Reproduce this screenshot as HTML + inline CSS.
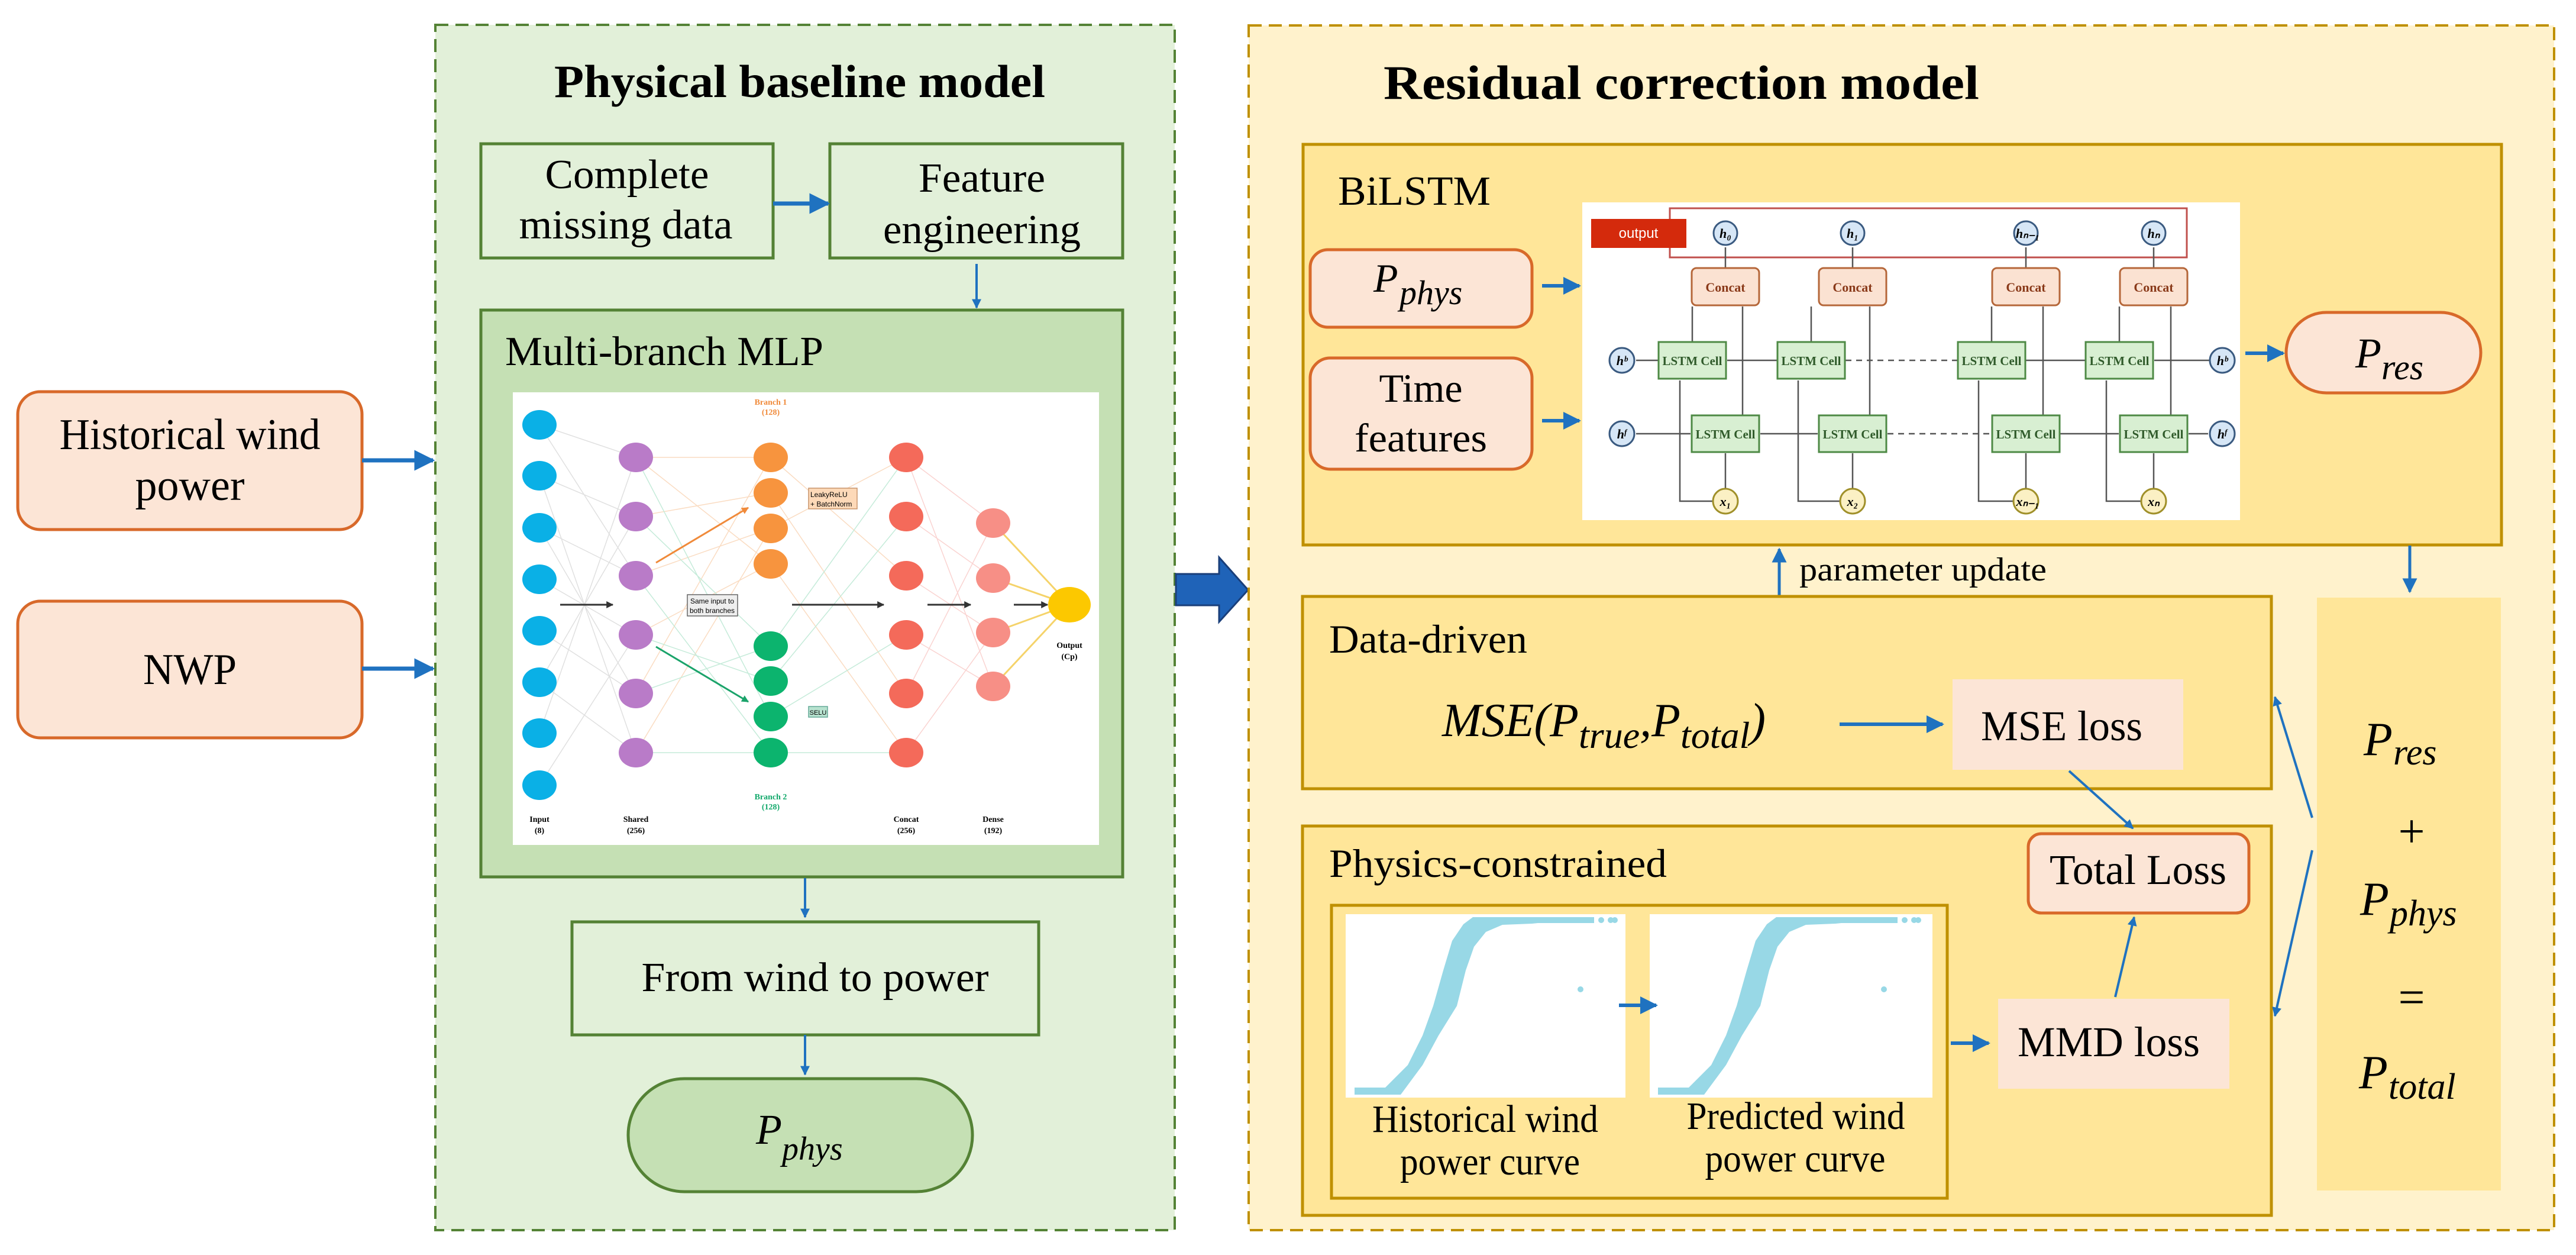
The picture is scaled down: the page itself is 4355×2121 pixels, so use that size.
<!DOCTYPE html>
<html><head><meta charset="utf-8"><style>
html,body{margin:0;padding:0;background:#fff;}
svg{display:block;}
text{font-family:"Liberation Serif",serif;fill:#000;}
.s{font-family:"Liberation Sans",sans-serif;}
</style></head><body>
<svg width="4355" height="2121" viewBox="0 0 4355 2121" xmlns="http://www.w3.org/2000/svg">
<defs>
<marker id="a" viewBox="0 0 10 10" refX="9" refY="5" markerWidth="5" markerHeight="5" orient="auto-start-reverse" markerUnits="strokeWidth"><path d="M0,0 L10,5 L0,10 z" fill="#1f72c0"/></marker>
<marker id="a2" viewBox="0 0 10 10" refX="9" refY="5" markerWidth="4" markerHeight="4" orient="auto" markerUnits="strokeWidth"><path d="M0,0 L10,5 L0,10 z" fill="#1f72c0"/></marker>
<marker id="k" viewBox="0 0 10 10" refX="9" refY="5" markerWidth="4" markerHeight="4" orient="auto" markerUnits="strokeWidth"><path d="M0,0 L10,5 L0,10 z" fill="#333"/></marker>
<marker id="o" viewBox="0 0 10 10" refX="9" refY="5" markerWidth="4" markerHeight="4" orient="auto" markerUnits="strokeWidth"><path d="M0,0 L10,5 L0,10 z" fill="#f08a3a"/></marker>
<marker id="gr" viewBox="0 0 10 10" refX="9" refY="5" markerWidth="4" markerHeight="4" orient="auto" markerUnits="strokeWidth"><path d="M0,0 L10,5 L0,10 z" fill="#1aa36a"/></marker>
</defs>

<!-- LEFT INPUT BOXES -->
<rect x="30" y="662" width="582" height="233" rx="38" fill="#fce5d6" stroke="#d8692a" stroke-width="5"/>
<text x="321" y="759" font-size="74" text-anchor="middle" textLength="441" lengthAdjust="spacingAndGlyphs">Historical wind</text>
<text x="321" y="845" font-size="74" text-anchor="middle">power</text>
<rect x="30" y="1016" width="582" height="231" rx="38" fill="#fce5d6" stroke="#d8692a" stroke-width="5"/>
<text x="321" y="1156" font-size="74" text-anchor="middle" textLength="158" lengthAdjust="spacingAndGlyphs">NWP</text>

<!-- LEFT PANEL -->
<rect x="736" y="42" width="1250" height="2037" fill="#e2f0d9" stroke="#548235" stroke-width="4" stroke-dasharray="22,12"/>
<text x="1352" y="164" font-size="78" font-weight="bold" text-anchor="middle" textLength="830" lengthAdjust="spacingAndGlyphs">Physical baseline model</text>
<rect x="813" y="243" width="494" height="193" fill="#e2f0d9" stroke="#548235" stroke-width="5"/>
<text x="1060" y="318" font-size="70" text-anchor="middle" textLength="277" lengthAdjust="spacingAndGlyphs">Complete</text>
<text x="1058" y="403" font-size="70" text-anchor="middle" textLength="361" lengthAdjust="spacingAndGlyphs">missing data</text>
<rect x="1403" y="243" width="495" height="193" fill="#e2f0d9" stroke="#548235" stroke-width="5"/>
<text x="1660" y="324" font-size="70" text-anchor="middle" textLength="214" lengthAdjust="spacingAndGlyphs">Feature</text>
<text x="1660" y="411" font-size="70" text-anchor="middle" textLength="334" lengthAdjust="spacingAndGlyphs">engineering</text>
<line x1="1307" y1="344" x2="1400" y2="344" stroke="#1f72c0" stroke-width="7" marker-end="url(#a)"/>
<line x1="1651" y1="446" x2="1651" y2="520" stroke="#1f72c0" stroke-width="4" marker-end="url(#a2)"/>

<rect x="813" y="524" width="1085" height="958" fill="#c5e0b4" stroke="#548235" stroke-width="5"/>
<text x="854" y="617" font-size="70" textLength="538" lengthAdjust="spacingAndGlyphs">Multi-branch MLP</text>

<!-- MLP image -->
<rect x="867" y="663" width="991" height="765" fill="#fff"/>
<g stroke-width="1.5" opacity="0.45">
<path d="M912,718 L1075,773 M912,804 L1075,873 M912,892 L1075,973 M912,979 L1075,1073 M912,1066 L1075,1172 M912,1153 L1075,1272 M912,718 L1075,973 M912,1327 L1075,1073 M912,804 L1075,1272 M912,1239 L1075,773 M912,892 L1075,1172 M912,1153 L1075,873" stroke="#bbb"/>
<path d="M1075,773 L1303,773 M1075,873 L1303,833 M1075,973 L1303,893 M1075,1073 L1303,953 M1075,1172 L1303,773 M1075,1272 L1303,893 M1075,773 L1303,953 M1303,773 L1532,973 M1303,833 L1532,1172 M1303,893 L1532,773 M1303,953 L1532,1272" stroke="#f5b27a"/>
<path d="M1075,773 L1303,1211 M1075,873 L1303,1092 M1075,973 L1303,1272 M1075,1073 L1303,1151 M1075,1172 L1303,1092 M1075,1272 L1303,1272 M1303,1092 L1532,773 M1303,1151 L1532,873 M1303,1211 L1532,1073 M1303,1272 L1532,1272" stroke="#7fd3ad"/>
<path d="M1532,773 L1679,884 M1532,873 L1679,977 M1532,973 L1679,1069 M1532,1073 L1679,1160 M1532,1172 L1679,884 M1532,1272 L1679,1069 M1532,773 L1679,1160" stroke="#f4a09a"/>
</g>
<g stroke="#f5d36a" stroke-width="3"><line x1="1679" y1="884" x2="1808" y2="1022"/><line x1="1679" y1="977" x2="1808" y2="1022"/><line x1="1679" y1="1069" x2="1808" y2="1022"/><line x1="1679" y1="1160" x2="1808" y2="1022"/></g>
<g fill="#0ab0e6"><ellipse cx="912" cy="718" rx="29" ry="25"/><ellipse cx="912" cy="804" rx="29" ry="25"/><ellipse cx="912" cy="892" rx="29" ry="25"/><ellipse cx="912" cy="979" rx="29" ry="25"/><ellipse cx="912" cy="1066" rx="29" ry="25"/><ellipse cx="912" cy="1153" rx="29" ry="25"/><ellipse cx="912" cy="1239" rx="29" ry="25"/><ellipse cx="912" cy="1327" rx="29" ry="25"/></g>
<g fill="#b97bc8"><ellipse cx="1075" cy="773" rx="29" ry="25"/><ellipse cx="1075" cy="873" rx="29" ry="25"/><ellipse cx="1075" cy="973" rx="29" ry="25"/><ellipse cx="1075" cy="1073" rx="29" ry="25"/><ellipse cx="1075" cy="1172" rx="29" ry="25"/><ellipse cx="1075" cy="1272" rx="29" ry="25"/></g>
<g fill="#f7943e"><ellipse cx="1303" cy="773" rx="29" ry="25"/><ellipse cx="1303" cy="833" rx="29" ry="25"/><ellipse cx="1303" cy="893" rx="29" ry="25"/><ellipse cx="1303" cy="953" rx="29" ry="25"/></g>
<g fill="#0cb46e"><ellipse cx="1303" cy="1092" rx="29" ry="25"/><ellipse cx="1303" cy="1151" rx="29" ry="25"/><ellipse cx="1303" cy="1211" rx="29" ry="25"/><ellipse cx="1303" cy="1272" rx="29" ry="25"/></g>
<g fill="#f46a5a"><ellipse cx="1532" cy="773" rx="29" ry="25"/><ellipse cx="1532" cy="873" rx="29" ry="25"/><ellipse cx="1532" cy="973" rx="29" ry="25"/><ellipse cx="1532" cy="1073" rx="29" ry="25"/><ellipse cx="1532" cy="1172" rx="29" ry="25"/><ellipse cx="1532" cy="1272" rx="29" ry="25"/></g>
<g fill="#f78f86"><ellipse cx="1679" cy="884" rx="29" ry="25"/><ellipse cx="1679" cy="977" rx="29" ry="25"/><ellipse cx="1679" cy="1069" rx="29" ry="25"/><ellipse cx="1679" cy="1160" rx="29" ry="25"/></g>
<ellipse cx="1808" cy="1022" rx="36" ry="30" fill="#fcc800"/>
<line x1="947" y1="1022" x2="1036" y2="1022" stroke="#333" stroke-width="3" marker-end="url(#k)"/>
<line x1="1339" y1="1022" x2="1494" y2="1022" stroke="#333" stroke-width="3" marker-end="url(#k)"/>
<line x1="1568" y1="1022" x2="1641" y2="1022" stroke="#333" stroke-width="3" marker-end="url(#k)"/>
<line x1="1714" y1="1022" x2="1771" y2="1022" stroke="#333" stroke-width="3" marker-end="url(#k)"/>
<line x1="1109" y1="951" x2="1265" y2="858" stroke="#f08a3a" stroke-width="3" marker-end="url(#o)"/>
<line x1="1109" y1="1093" x2="1265" y2="1186" stroke="#1aa36a" stroke-width="3" marker-end="url(#gr)"/>
<rect x="1162" y="1005" width="85" height="36" fill="#eee" stroke="#666" stroke-width="1.5"/>
<text x="1204" y="1020" font-size="12" class="s" text-anchor="middle">Same input to</text>
<text x="1204" y="1036" font-size="12" class="s" text-anchor="middle">both branches</text>
<rect x="1367" y="825" width="82" height="35" fill="#fdd9b8" stroke="#c8946a" stroke-width="1.5"/>
<text x="1370" y="840" font-size="12" class="s">LeakyReLU</text>
<text x="1370" y="856" font-size="12" class="s">+ BatchNorm</text>
<rect x="1367" y="1194" width="32" height="18" fill="#b7e2cf" stroke="#6a9" stroke-width="1.5"/>
<text x="1383" y="1208" font-size="11" class="s" text-anchor="middle">SELU</text>
<g class="s" font-size="14" font-weight="bold" text-anchor="middle">
<text x="1303" y="684" style="fill:#f08a3a">Branch 1</text><text x="1303" y="701" style="fill:#f08a3a">(128)</text>
<text x="1303" y="1351" style="fill:#10a86a">Branch 2</text><text x="1303" y="1368" style="fill:#10a86a">(128)</text>
<text x="912" y="1389">Input</text><text x="912" y="1408">(8)</text>
<text x="1075" y="1389">Shared</text><text x="1075" y="1408">(256)</text>
<text x="1532" y="1389">Concat</text><text x="1532" y="1408">(256)</text>
<text x="1679" y="1389">Dense</text><text x="1679" y="1408">(192)</text>
<text x="1808" y="1095">Output</text><text x="1808" y="1114">(Cp)</text>
</g>

<line x1="1361" y1="1484" x2="1361" y2="1550" stroke="#1f72c0" stroke-width="4" marker-end="url(#a2)"/>
<rect x="967" y="1558" width="789" height="191" fill="#e2f0d9" stroke="#548235" stroke-width="5"/>
<text x="1378" y="1675" font-size="70" text-anchor="middle" textLength="587" lengthAdjust="spacingAndGlyphs">From wind to power</text>
<line x1="1361" y1="1749" x2="1361" y2="1816" stroke="#1f72c0" stroke-width="4" marker-end="url(#a2)"/>
<rect x="1062" y="1823" width="582" height="191" rx="95" fill="#c5e0b4" stroke="#548235" stroke-width="5"/>
<text x="1278" y="1933" font-size="72" font-style="italic">P</text>
<text x="1322" y="1960" font-size="56" font-style="italic">phys</text>

<!-- arrows in -->
<line x1="612" y1="778" x2="732" y2="778" stroke="#1f72c0" stroke-width="7" marker-end="url(#a)"/>
<line x1="612" y1="1130" x2="732" y2="1130" stroke="#1f72c0" stroke-width="7" marker-end="url(#a)"/>

<!-- big arrow -->
<path d="M1988,970 L2061,970 L2061,942 L2110,997 L2061,1051 L2061,1023 L1988,1023 Z" fill="#1f63b8" stroke="#1a3f7a" stroke-width="3"/>

<!-- RIGHT PANEL -->
<rect x="2111" y="43" width="2207" height="2036" fill="#fff2cc" stroke="#bf9000" stroke-width="4" stroke-dasharray="22,12"/>
<text x="2339" y="167" font-size="82" font-weight="bold" textLength="1007" lengthAdjust="spacingAndGlyphs">Residual correction model</text>

<rect x="2203" y="244" width="2026" height="677" fill="#ffe699" stroke="#bf9000" stroke-width="5"/>
<text x="2262" y="346" font-size="70" textLength="258" lengthAdjust="spacingAndGlyphs">BiLSTM</text>
<rect x="2215" y="422" width="375" height="131" rx="30" fill="#fce5d6" stroke="#d8692a" stroke-width="5"/>
<text x="2322" y="493" font-size="68" font-style="italic">P</text>
<text x="2366" y="514" font-size="58" font-style="italic">phys</text>
<rect x="2215" y="605" width="375" height="188" rx="34" fill="#fce5d6" stroke="#d8692a" stroke-width="5"/>
<text x="2402" y="679" font-size="68" text-anchor="middle">Time</text>
<text x="2402" y="763" font-size="68" text-anchor="middle" textLength="224" lengthAdjust="spacingAndGlyphs">features</text>
<line x1="2607" y1="483" x2="2670" y2="483" stroke="#1f72c0" stroke-width="6" marker-end="url(#a)"/>
<line x1="2607" y1="711" x2="2670" y2="711" stroke="#1f72c0" stroke-width="6" marker-end="url(#a)"/>

<!-- BiLSTM image -->
<rect x="2675" y="342" width="1112" height="537" fill="#fff"/>
<rect x="2823" y="352" width="874" height="83" fill="none" stroke="#c0504d" stroke-width="3"/>
<rect x="2690" y="370" width="161" height="49" fill="#d42a0c"/>
<text x="2770" y="402" font-size="24" class="s" text-anchor="middle" style="fill:#fff">output</text>
<g stroke="#555" stroke-width="2.5" fill="none">
<path d="M2917,453 L2917,418 M3132,453 L3132,418 M3425,453 L3425,418 M3641,453 L3641,418"/>
<path d="M2861,577 L2861,518 M3062,577 L3062,518 M3367,577 L3367,518 M3583,577 L3583,518"/>
<path d="M2946,701 L2946,518 M3161,701 L3161,518 M3454,701 L3454,518 M3670,701 L3670,518"/>
<path d="M2917,825 L2917,766 M3132,825 L3132,766 M3425,825 L3425,766 M3641,825 L3641,766"/>
<path d="M2895,847 L2840,847 L2840,643 M3110,847 L3040,847 L3040,643 M3403,847 L3345,847 L3345,643 M3619,847 L3561,847 L3561,643"/>
<path d="M3735,609 L3642,609 M3525,609 L3419,609 M3004,609 L2920,609 M2803,609 L2766,609"/>
<path d="M3310,609 L3120,609" stroke-dasharray="10,8"/>
<path d="M2766,733 L2858,733 M2976,733 L3073,733 M3483,733 L3582,733 M3700,733 L3733,733"/>
<path d="M3191,733 L3366,733" stroke-dasharray="10,8"/>
</g>
<g fill="#fbe2d2" stroke="#b5673a" stroke-width="3">
<rect x="2860" y="453" width="114" height="63" rx="8"/><rect x="3075" y="453" width="114" height="63" rx="8"/><rect x="3368" y="453" width="114" height="63" rx="8"/><rect x="3584" y="453" width="114" height="63" rx="8"/>
</g>
<g class="s" font-size="22" font-weight="bold" text-anchor="middle">
<text x="2917" y="493" style="fill:#8a3a1a">Concat</text><text x="3132" y="493" style="fill:#8a3a1a">Concat</text><text x="3425" y="493" style="fill:#8a3a1a">Concat</text><text x="3641" y="493" style="fill:#8a3a1a">Concat</text>
</g>
<g fill="#d8efd2" stroke="#4e8a45" stroke-width="3">
<rect x="2804" y="578" width="114" height="62"/><rect x="3005" y="578" width="114" height="62"/><rect x="3310" y="578" width="114" height="62"/><rect x="3526" y="578" width="114" height="62"/>
<rect x="2860" y="702" width="114" height="62"/><rect x="3075" y="702" width="114" height="62"/><rect x="3368" y="702" width="114" height="62"/><rect x="3584" y="702" width="114" height="62"/>
</g>
<g class="s" font-size="21" font-weight="bold" text-anchor="middle">
<text x="2861" y="617" style="fill:#2f5a2a">LSTM Cell</text><text x="3062" y="617" style="fill:#2f5a2a">LSTM Cell</text><text x="3367" y="617" style="fill:#2f5a2a">LSTM Cell</text><text x="3583" y="617" style="fill:#2f5a2a">LSTM Cell</text>
<text x="2917" y="741" style="fill:#2f5a2a">LSTM Cell</text><text x="3132" y="741" style="fill:#2f5a2a">LSTM Cell</text><text x="3425" y="741" style="fill:#2f5a2a">LSTM Cell</text><text x="3641" y="741" style="fill:#2f5a2a">LSTM Cell</text>
</g>
<g fill="#d6e6f6" stroke="#3a5a80" stroke-width="3">
<circle cx="2917" cy="394" r="20"/><circle cx="3132" cy="394" r="20"/><circle cx="3425" cy="394" r="20"/><circle cx="3641" cy="394" r="20"/>
<circle cx="2742" cy="609" r="21"/><circle cx="3757" cy="609" r="21"/><circle cx="2742" cy="733" r="21"/><circle cx="3757" cy="733" r="21"/>
</g>
<g fill="#fbf0c4" stroke="#a0902a" stroke-width="3">
<circle cx="2917" cy="847" r="21"/><circle cx="3132" cy="847" r="21"/><circle cx="3425" cy="847" r="21"/><circle cx="3641" cy="847" r="21"/>
</g>
<g font-size="22" font-style="italic" font-weight="bold" text-anchor="middle">
<text x="2917" y="402">h₀</text><text x="3132" y="402">h₁</text><text x="3428" y="402">hₙ₋₁</text><text x="3641" y="402">hₙ</text>
<text x="2742" y="617">hᵇ</text><text x="3757" y="617">hᵇ</text><text x="2742" y="741">hᶠ</text><text x="3757" y="741">hᶠ</text>
<text x="2917" y="855">x₁</text><text x="3132" y="855">x₂</text><text x="3428" y="855">xₙ₋₁</text><text x="3641" y="855">xₙ</text>
</g>

<rect x="3865" y="528" width="329" height="136" rx="68" fill="#fce5d6" stroke="#d8692a" stroke-width="5"/>
<text x="3982" y="621" font-size="72" font-style="italic">P</text>
<text x="4026" y="641" font-size="60" font-style="italic">res</text>
<line x1="3796" y1="597" x2="3860" y2="597" stroke="#1f72c0" stroke-width="6" marker-end="url(#a)"/>
<line x1="4074" y1="922" x2="4074" y2="1000" stroke="#1f72c0" stroke-width="5" marker-end="url(#a)"/>

<line x1="3008" y1="1006" x2="3008" y2="928" stroke="#1f72c0" stroke-width="5" marker-end="url(#a)"/>
<text x="3042" y="981" font-size="56" textLength="418" lengthAdjust="spacingAndGlyphs">parameter update</text>

<!-- Data-driven -->
<rect x="2202" y="1008" width="1638" height="325" fill="#ffe699" stroke="#bf9000" stroke-width="5"/>
<text x="2247" y="1103" font-size="68" textLength="335" lengthAdjust="spacingAndGlyphs">Data-driven</text>
<text x="2438" y="1244" font-size="80" font-style="italic">MSE(P<tspan font-size="64" dy="20">true</tspan><tspan dy="-20">,P</tspan><tspan font-size="64" dy="20">total</tspan><tspan dy="-20">)</tspan></text>
<line x1="3110" y1="1224" x2="3284" y2="1224" stroke="#1f72c0" stroke-width="6" marker-end="url(#a)"/>
<rect x="3301" y="1148" width="390" height="153" fill="#fce5d6"/>
<text x="3349" y="1251" font-size="72" textLength="273" lengthAdjust="spacingAndGlyphs">MSE loss</text>

<!-- Physics-constrained -->
<rect x="2202" y="1396" width="1638" height="658" fill="#ffe699" stroke="#bf9000" stroke-width="5"/>
<text x="2247" y="1482" font-size="68" textLength="571" lengthAdjust="spacingAndGlyphs">Physics-constrained</text>
<rect x="2251" y="1530" width="1041" height="495" fill="#ffe699" stroke="#bf9000" stroke-width="5"/>
<rect x="2275" y="1545" width="473" height="310" fill="#fff"/>
<rect x="2789" y="1545" width="478" height="310" fill="#fff"/>
<g fill="#98d8e6">
<polygon points="2290,1838 2290,1850 2368,1850 2405,1800 2432,1750 2463,1700 2478,1640 2492,1600 2512,1575 2540,1563 2590,1561 2600,1560 2695,1560 2695,1550 2490,1550 2474,1562 2455,1590 2440,1640 2423,1700 2405,1750 2380,1800 2342,1838"/>
<circle cx="2707" cy="1555" r="5"/><circle cx="2723" cy="1555" r="5"/><circle cx="2730" cy="1555" r="5"/><circle cx="2672" cy="1672" r="5"/>
<g transform="translate(513,0)">
<polygon points="2290,1838 2290,1850 2368,1850 2405,1800 2432,1750 2463,1700 2478,1640 2492,1600 2512,1575 2540,1563 2590,1561 2600,1560 2695,1560 2695,1550 2490,1550 2474,1562 2455,1590 2440,1640 2423,1700 2405,1750 2380,1800 2342,1838"/>
<circle cx="2707" cy="1555" r="5"/><circle cx="2723" cy="1555" r="5"/><circle cx="2730" cy="1555" r="5"/><circle cx="2672" cy="1672" r="5"/>
</g>
</g>
<line x1="2737" y1="1699" x2="2800" y2="1699" stroke="#1f72c0" stroke-width="6" marker-end="url(#a)"/>
<text x="2511" y="1913" font-size="66" text-anchor="middle" textLength="382" lengthAdjust="spacingAndGlyphs">Historical wind</text>
<text x="2519" y="1985" font-size="66" text-anchor="middle" textLength="304" lengthAdjust="spacingAndGlyphs">power curve</text>
<text x="3036" y="1908" font-size="66" text-anchor="middle" textLength="369" lengthAdjust="spacingAndGlyphs">Predicted wind</text>
<text x="3035" y="1980" font-size="66" text-anchor="middle" textLength="305" lengthAdjust="spacingAndGlyphs">power curve</text>
<line x1="3298" y1="1763" x2="3362" y2="1763" stroke="#1f72c0" stroke-width="6" marker-end="url(#a)"/>
<rect x="3378" y="1688" width="391" height="152" fill="#fce5d6"/>
<text x="3411" y="1785" font-size="72" textLength="308" lengthAdjust="spacingAndGlyphs">MMD loss</text>
<rect x="3429" y="1409" width="373" height="134" rx="22" fill="#fce5d6" stroke="#d8692a" stroke-width="5"/>
<text x="3465" y="1494" font-size="72" textLength="299" lengthAdjust="spacingAndGlyphs">Total Loss</text>
<line x1="3498" y1="1303" x2="3606" y2="1400" stroke="#1f72c0" stroke-width="4" marker-end="url(#a2)"/>
<line x1="3576" y1="1685" x2="3608" y2="1550" stroke="#1f72c0" stroke-width="4" marker-end="url(#a2)"/>

<!-- right column -->
<rect x="3917" y="1010" width="311" height="1002" fill="#ffe699"/>
<line x1="3909" y1="1382" x2="3846" y2="1178" stroke="#1f72c0" stroke-width="4" marker-end="url(#a2)"/>
<line x1="3909" y1="1437" x2="3846" y2="1717" stroke="#1f72c0" stroke-width="4" marker-end="url(#a2)"/>
<text x="3996" y="1276" font-size="80" font-style="italic">P</text>
<text x="4046" y="1292" font-size="62" font-style="italic">res</text>
<text x="4077" y="1432" font-size="80" text-anchor="middle">+</text>
<text x="3990" y="1546" font-size="80" font-style="italic">P</text>
<text x="4040" y="1564" font-size="62" font-style="italic">phys</text>
<text x="4077" y="1712" font-size="80" text-anchor="middle">=</text>
<text x="3988" y="1839" font-size="80" font-style="italic">P</text>
<text x="4038" y="1857" font-size="62" font-style="italic">total</text>
</svg>
</body></html>
